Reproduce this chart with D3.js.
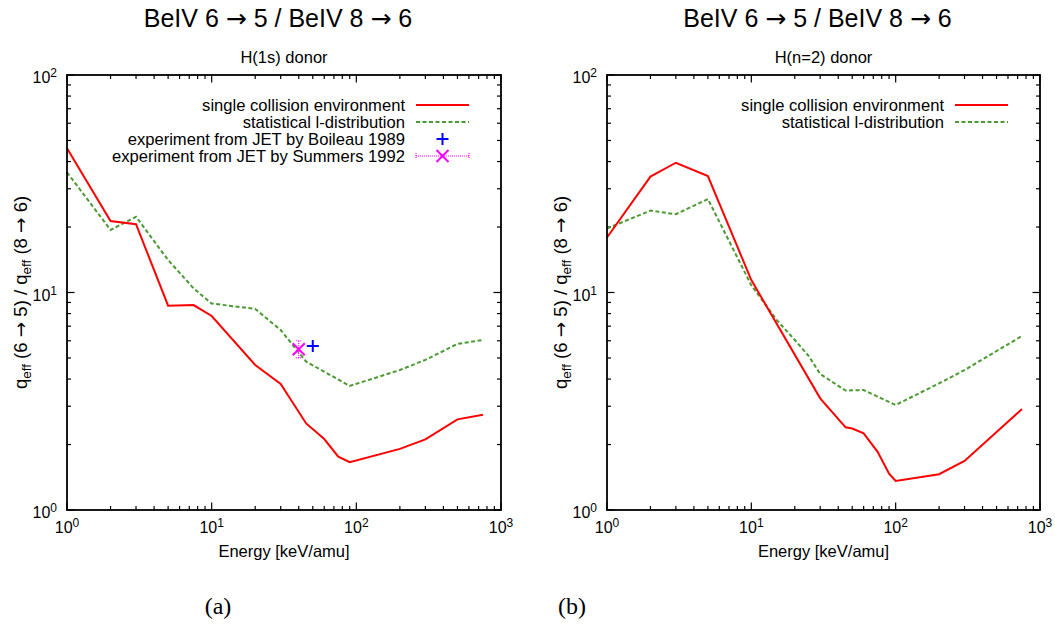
<!DOCTYPE html>
<html>
<head>
<meta charset="utf-8">
<script src="https://cdn.jsdelivr.net/npm/d3@7"></script>
<style>
  body { margin: 0; background: #fff; }
  svg text { font-family: "Liberation Sans", Arial, sans-serif; fill: #000; }
  .arrow { font-family: "DejaVu Sans", sans-serif; }
</style>
</head>
<body>
<div id="vis"></div>
<script>
const width = 1055;
const height = 632;

// panel (a): H(1s) donor
const energyRedA   = [1, 2, 3, 5, 7.5, 10, 20, 30, 45, 60, 75, 90, 200, 300, 500, 750];
const ratioRedA    = [46, 21.3, 20.6, 8.7, 8.75, 7.8, 4.64, 3.8, 2.5, 2.12, 1.76, 1.66, 1.91, 2.11, 2.61, 2.74];
const energyGreenA = [1, 2, 3, 5, 7.5, 10, 20, 30, 45, 90, 200, 300, 500, 750];
const ratioGreenA  = [35.7, 19.4, 22.3, 14.1, 10.45, 8.9, 8.4, 6.72, 4.81, 3.72, 4.4, 4.9, 5.8, 6.05];

// experiments (panel a only)
const boileauEnergy = [50];
const boileauRatio  = [5.68];
const summersEnergy = [40];
const summersRatio  = [5.48];
const summersLow    = [5.0];
const summersHigh   = [6.0];

// panel (b): H(n=2) donor
const energyRedB   = [1, 2, 3, 5, 10, 30, 45, 50, 60, 75, 90, 100, 200, 300, 750];
const ratioRedB    = [17.9, 34.1, 39.5, 34.3, 11.4, 3.26, 2.4, 2.37, 2.25, 1.85, 1.47, 1.36, 1.46, 1.68, 2.91];
const energyGreenB = [1, 2, 3, 5, 10, 15, 20, 25, 30, 45, 60, 100, 200, 300, 750];
const ratioGreenB  = [19.7, 23.8, 22.9, 26.9, 10.8, 7.47, 6.05, 5.1, 4.22, 3.54, 3.56, 3.04, 3.82, 4.4, 6.31];

const xDomain = [1, 1000];
const yDomain = [1, 100];
const decades = [0, 1, 2, 3];

// pieces of the title, arrows drawn in a font with a proper long arrow
const titleParts = ['BeIV 6 ', '\u2192', ' 5 / BeIV 8 ', '\u2192', ' 6'];
const xLabel = 'Energy [keV/amu]';
const legendRed = 'single collision environment';
const legendGreen = 'statistical l-distribution';
const legendBoileau = 'experiment from JET by Boileau 1989';
const legendSummers = 'experiment from JET by Summers 1992';

const red = '#ff0000';
const green = '#4a9a32';
const blue = '#0000ff';
const magenta = '#ff00ff';

let vis = d3.select('#vis')
            .append('svg')
            .attr('width', width)
            .attr('height', height);

const panels = [
    {
        left: 67, right: 501, top: 75, bottom: 510,
        subtitle: 'H(1s) donor', caption: '(a)', captionX: 218,
        red: energyRedA.map((e, i) => [e, ratioRedA[i]]),
        green: energyGreenA.map((e, i) => [e, ratioGreenA[i]]),
        experiments: true
    },
    {
        left: 607, right: 1040, top: 75, bottom: 510,
        subtitle: 'H(n=2) donor', caption: '(b)', captionX: 572,
        red: energyRedB.map((e, i) => [e, ratioRedB[i]]),
        green: energyGreenB.map((e, i) => [e, ratioGreenB[i]]),
        experiments: false
    }
];

panels.forEach(p => drawPanel(p));

function drawPanel(p) {
    const x = d3.scaleLog().domain(xDomain).range([p.left, p.right]);
    const y = d3.scaleLog().domain(yDomain).range([p.bottom, p.top]);
    const g = vis.append('g');
    const cx = (p.left + p.right) / 2;

    // titles
    const title = g.append('text')
                   .attr('x', cx - 6).attr('y', 27)
                   .attr('text-anchor', 'middle')
                   .style('font-size', '25px');
    titleParts.forEach(s => {
        const ts = title.append('tspan').text(s);
        if (s === '\u2192') ts.attr('class', 'arrow').style('font-size', '25px');
    });

    g.append('text')
     .attr('x', cx).attr('y', 63)
     .attr('text-anchor', 'middle')
     .style('font-size', '16.5px')
     .text(p.subtitle);

    // ticks (inward, mirrored on all four sides)
    const minorVals = [];
    for (let d = 0; d < 3; d++) {
        for (let k = 2; k <= 9; k++) minorVals.push(k * Math.pow(10, d));
    }
    const majorLen = 7.5, minorLen = 4;
    const ticks = g.append('g').attr('stroke', '#000').attr('stroke-width', 1.2);

    decades.forEach(d => {
        const xx = x(Math.pow(10, d));
        ticks.append('line').attr('x1', xx).attr('x2', xx).attr('y1', p.bottom).attr('y2', p.bottom - majorLen);
        ticks.append('line').attr('x1', xx).attr('x2', xx).attr('y1', p.top).attr('y2', p.top + majorLen);
    });
    minorVals.forEach(v => {
        const xx = x(v);
        ticks.append('line').attr('x1', xx).attr('x2', xx).attr('y1', p.bottom).attr('y2', p.bottom - minorLen);
        ticks.append('line').attr('x1', xx).attr('x2', xx).attr('y1', p.top).attr('y2', p.top + minorLen);
    });
    decades.slice(0, 3).forEach(d => {
        const yy = y(Math.pow(10, d));
        ticks.append('line').attr('y1', yy).attr('y2', yy).attr('x1', p.left).attr('x2', p.left + majorLen);
        ticks.append('line').attr('y1', yy).attr('y2', yy).attr('x1', p.right).attr('x2', p.right - majorLen);
    });
    minorVals.filter(v => v < 100).forEach(v => {
        const yy = y(v);
        ticks.append('line').attr('y1', yy).attr('y2', yy).attr('x1', p.left).attr('x2', p.left + minorLen);
        ticks.append('line').attr('y1', yy).attr('y2', yy).attr('x1', p.right).attr('x2', p.right - minorLen);
    });

    // tick labels 10^n
    decades.forEach(d => {
        const t = g.append('text')
                   .attr('x', x(Math.pow(10, d)))
                   .attr('y', p.bottom + 23)
                   .attr('text-anchor', 'middle')
                   .style('font-size', '16px');
        t.append('tspan').text('10');
        t.append('tspan').attr('dy', -6).style('font-size', '12px').text(d);
    });
    decades.slice(0, 3).forEach(d => {
        const t = g.append('text')
                   .attr('x', p.left - 10)
                   .attr('y', y(Math.pow(10, d)) + 8)
                   .attr('text-anchor', 'end')
                   .style('font-size', '16px');
        t.append('tspan').text('10');
        t.append('tspan').attr('dy', -6).style('font-size', '12px').text(d);
    });

    // axis labels
    g.append('text')
     .attr('x', cx).attr('y', p.bottom + 47)
     .attr('text-anchor', 'middle')
     .style('font-size', '16.5px')
     .text(xLabel);

    const yl = g.append('text')
                .attr('transform', `translate(${p.left - 40},${(p.top + p.bottom) / 2}) rotate(-90)`)
                .attr('text-anchor', 'middle')
                .style('font-size', '18.5px');
    yl.append('tspan').text('q');
    yl.append('tspan').attr('dy', 4).style('font-size', '13.5px').text('eff');
    yl.append('tspan').attr('dy', -4).text(' (6 ');
    yl.append('tspan').attr('class', 'arrow').text('\u2192');
    yl.append('tspan').text(' 5) / q');
    yl.append('tspan').attr('dy', 4).style('font-size', '13.5px').text('eff');
    yl.append('tspan').attr('dy', -4).text(' (8 ');
    yl.append('tspan').attr('class', 'arrow').text('\u2192');
    yl.append('tspan').text(' 6)');

    // curves
    const line = d3.line().x(d => x(d[0])).y(d => y(d[1]));

    g.append('path')
     .datum(p.green)
     .attr('d', line)
     .attr('fill', 'none')
     .attr('stroke', green)
     .attr('stroke-width', 2)
     .attr('stroke-dasharray', '4,2.5');

    g.append('path')
     .datum(p.red)
     .attr('d', line)
     .attr('fill', 'none')
     .attr('stroke', red)
     .attr('stroke-width', 2);

    // legend
    const textEnd = p.right - 96;
    const lx1 = p.right - 85, lx2 = p.right - 32;
    const rowY = i => 105 + i * 17;
    const entries = [legendRed, legendGreen];
    if (p.experiments) entries.push(legendBoileau, legendSummers);
    entries.forEach((label, i) => {
        g.append('text')
         .attr('x', textEnd).attr('y', rowY(i) + 5.5)
         .attr('text-anchor', 'end')
         .style('font-size', '16.6px')
         .text(label);
    });
    g.append('line').attr('x1', lx1).attr('x2', lx2).attr('y1', rowY(0)).attr('y2', rowY(0))
     .attr('stroke', red).attr('stroke-width', 2);
    g.append('line').attr('x1', lx1).attr('x2', lx2).attr('y1', rowY(1)).attr('y2', rowY(1))
     .attr('stroke', green).attr('stroke-width', 2).attr('stroke-dasharray', '4,2.5');

    if (p.experiments) {
        const mid = (lx1 + lx2) / 2;
        drawPlus(g, mid, rowY(2));
        // summers legend: dotted errorbar with X
        g.append('line').attr('x1', lx1).attr('x2', lx2).attr('y1', rowY(3)).attr('y2', rowY(3))
         .attr('stroke', magenta).attr('stroke-width', 1.2).attr('stroke-dasharray', '1,1');
        [lx1, lx2].forEach(xx => {
            g.append('line').attr('x1', xx).attr('x2', xx).attr('y1', rowY(3) - 3).attr('y2', rowY(3) + 3)
             .attr('stroke', magenta).attr('stroke-width', 1.2).attr('stroke-dasharray', '1,1');
        });
        drawCross(g, mid, rowY(3));

        // summers data point with y error bar
        summersEnergy.forEach((e, i) => {
            const xx = x(e);
            g.append('line').attr('x1', xx).attr('x2', xx)
             .attr('y1', y(summersLow[i])).attr('y2', y(summersHigh[i]))
             .attr('stroke', magenta).attr('stroke-width', 1.2).attr('stroke-dasharray', '1,1');
            [summersLow[i], summersHigh[i]].forEach(v => {
                g.append('line').attr('x1', xx - 3).attr('x2', xx + 3)
                 .attr('y1', y(v)).attr('y2', y(v))
                 .attr('stroke', magenta).attr('stroke-width', 1.2).attr('stroke-dasharray', '1,1');
            });
            drawCross(g, xx, y(summersRatio[i]));
        });
        boileauEnergy.forEach((e, i) => drawPlus(g, x(e), y(boileauRatio[i])));
    }

    // frame
    g.append('rect')
     .attr('x', p.left).attr('y', p.top)
     .attr('width', p.right - p.left).attr('height', p.bottom - p.top)
     .attr('fill', 'none').attr('stroke', '#000').attr('stroke-width', 1.8);

    // caption
    g.append('text')
     .attr('x', p.captionX).attr('y', 614)
     .attr('text-anchor', 'middle')
     .style('font-family', '"Liberation Serif", "DejaVu Serif", serif')
     .style('font-size', '24px')
     .text(p.caption);
}

function drawPlus(g, cx, cy) {
    const s = 6;
    g.append('path')
     .attr('d', `M${cx - s},${cy}H${cx + s}M${cx},${cy - s}V${cy + s}`)
     .attr('stroke', blue).attr('stroke-width', 2).attr('fill', 'none');
}

function drawCross(g, cx, cy) {
    const s = 6;
    g.append('path')
     .attr('d', `M${cx - s},${cy - s}L${cx + s},${cy + s}M${cx - s},${cy + s}L${cx + s},${cy - s}`)
     .attr('stroke', magenta).attr('stroke-width', 2).attr('fill', 'none');
}
</script>
</body>
</html>
